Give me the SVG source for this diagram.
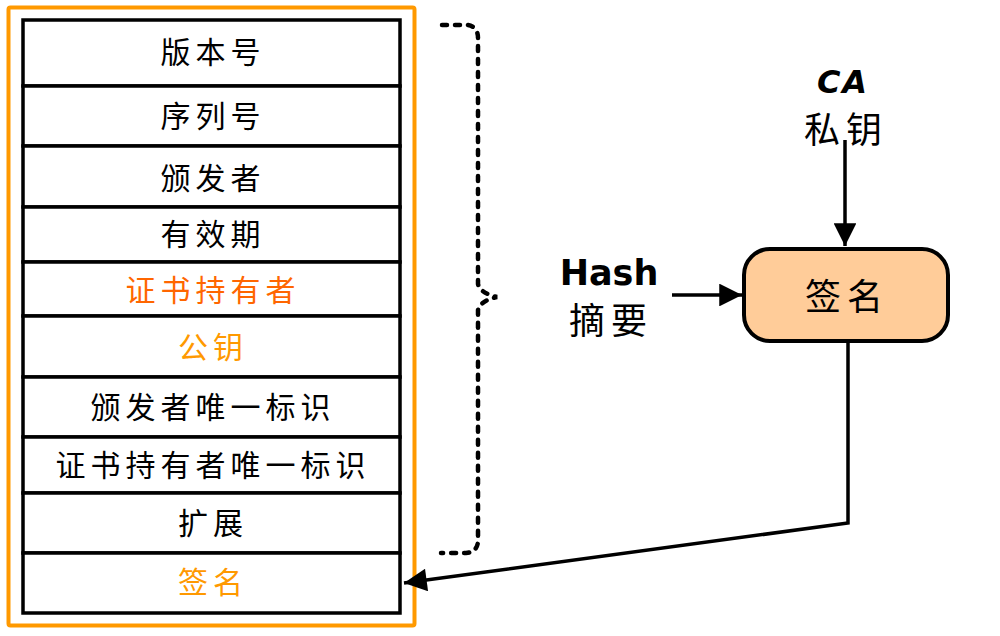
<svg xmlns="http://www.w3.org/2000/svg" width="1000" height="636" viewBox="0 0 1000 636">
<defs>
<marker id="ah" viewBox="0 0 10 10" refX="10" refY="5" markerWidth="7.5" markerHeight="6.5" markerUnits="strokeWidth" orient="auto">
<path d="M0,0 L10,5 L0,10 z" fill="#000"/>
</marker>
<style>
.cell{fill:#fff;stroke:#000;stroke-width:3.5}
.t{font-family:"Noto Sans CJK SC",sans-serif;font-size:30px;letter-spacing:5px;text-anchor:middle;dominant-baseline:central;fill:#000}
.big{font-family:"Noto Sans CJK SC",sans-serif;font-size:36px;letter-spacing:6px;text-anchor:middle;dominant-baseline:central;fill:#000}
.lat{font-family:"DejaVu Sans",sans-serif;font-weight:bold;text-anchor:middle;fill:#000}
.conn{fill:none;stroke:#000;stroke-width:3.5}
</style>
</defs>
<rect width="1000" height="636" fill="#fff"/>
<g id="certificate">
<rect x="8.5" y="7.5" width="406" height="618" fill="none" stroke="#FF9900" stroke-width="4" rx="2"/>
<g id="row-version"><rect class="cell" x="23" y="20" width="377" height="66"/><text class="t" x="213" y="50">版本号</text></g>
<g id="row-serial"><rect class="cell" x="23" y="86" width="377" height="60"/><text class="t" x="213" y="114">序列号</text></g>
<g id="row-issuer"><rect class="cell" x="23" y="146" width="377" height="61"/><text class="t" x="213" y="176">颁发者</text></g>
<g id="row-validity"><rect class="cell" x="23" y="207" width="377" height="55"/><text class="t" x="213" y="232">有效期</text></g>
<g id="row-subject"><rect class="cell" x="23" y="262" width="377" height="54"/><text class="t" x="213" y="288" style="fill:#FF6600">证书持有者</text></g>
<g id="row-pubkey"><rect class="cell" x="23" y="316" width="377" height="61"/><text class="t" x="213" y="345" style="fill:#FF9900">公钥</text></g>
<g id="row-issuer-uid"><rect class="cell" x="23" y="377" width="377" height="60"/><text class="t" x="213" y="405">颁发者唯一标识</text></g>
<g id="row-subject-uid"><rect class="cell" x="23" y="437" width="377" height="56"/><text class="t" x="213" y="463">证书持有者唯一标识</text></g>
<g id="row-ext"><rect class="cell" x="23" y="493" width="377" height="60"/><text class="t" x="213" y="521">扩展</text></g>
<g id="row-sig"><rect class="cell" x="23" y="553" width="377" height="60"/><text class="t" x="213" y="580" style="fill:#FF9900">签名</text></g>
</g>
<g id="brace">
<path d="M442,25 L468,25 Q478,27 478,38 L478,284 Q480,293 497,297 Q480,301 478,310 L478,540 Q478,552 466,553 L441,553" fill="none" stroke="#000" stroke-width="4.5" stroke-dasharray="5 8" stroke-linecap="round"/>
</g>
<g id="ca-key">
<text class="lat" x="843" y="93" font-size="32" font-style="italic" letter-spacing="2">CA</text>
<text class="big" x="846" y="127">私钥</text>
</g>
<g id="hash-digest">
<text class="lat" x="609" y="285" font-size="35">Hash</text>
<text class="big" x="611" y="318">摘要</text>
</g>
<g id="sign-node">
<rect x="744" y="249" width="204" height="92" rx="26" fill="#FFCC99" stroke="#000" stroke-width="4"/>
<text class="big" x="847" y="294">签名</text>
</g>
<g id="connectors">
<line class="conn" x1="845" y1="140" x2="845" y2="246" marker-end="url(#ah)"/>
<line class="conn" x1="672" y1="295" x2="742" y2="295" marker-end="url(#ah)"/>
<polyline class="conn" points="848,341 848,523 404,583" marker-end="url(#ah)"/>
</g>
</svg>
